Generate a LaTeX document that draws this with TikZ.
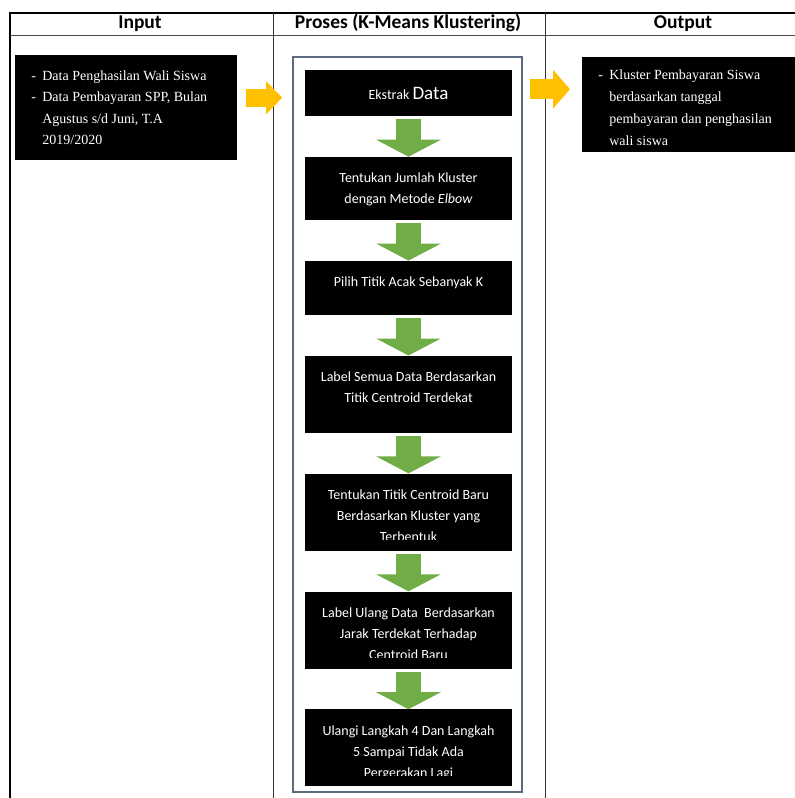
\documentclass[tikz,border=0pt]{standalone}
\usepackage{fontspec}
\setmainfont{Liberation Serif}
\newfontfamily\calibri{Carlito}
\usetikzlibrary{positioning,arrows.meta}
\definecolor{stepgreen}{HTML}{70AD47}
\definecolor{flowyellow}{HTML}{FFC000}
\definecolor{framegrey}{HTML}{5B6B7F}

\tikzset{
  steptext/.style={anchor=base,inner sep=0pt,text=white,minimum width=0pt,minimum height=0pt,
    font=\calibri\fontsize{14pt}{21pt}\selectfont},
  stepbox/.style={fill=black,minimum width=207pt,minimum height=77pt,inner sep=0pt,
    path picture={
      \clip ([yshift=11pt]path picture bounding box.south west) rectangle (path picture bounding box.north east);
      \node[steptext] at ([yshift=-26pt]path picture bounding box.north)
        {\begin{tabular}[t]{@{}c@{}}#1\end{tabular}};}},
  listtext/.style={anchor=base west,inner sep=0pt,text=white,minimum width=0pt,minimum height=0pt,
    font=\fontsize{14pt}{21.5pt}\selectfont},
  listbox/.style={fill=black,inner sep=0pt,anchor=north west,
    path picture={
      \node[listtext] at ([xshift=16pt,yshift=-25pt]path picture bounding box.north west)
        {\begin{tabular}[t]{@{}l@{\hspace{6.3pt}}l@{}}#1\end{tabular}};}},
  header/.style={anchor=base,font=\calibri\bfseries\fontsize{19.5pt}{22pt}\selectfont}
}

\begin{document}
\begin{tikzpicture}[x=1pt,y=-1pt,node distance=40.5pt,
    greenarrow/.style={draw=stepgreen,line width=25pt,shorten <=3pt,
      -{Triangle[width=64pt,length=17pt]}},
    yellowarrow/.style={draw=flowyellow,line width=18pt,
      -{Triangle[width=32pt,length=16pt]}}]
\useasboundingbox (0,0) rectangle (795,798);

% tabel
\draw[line width=2pt] (10,798) -- (10,13) -- (795,13);
\draw[black!70,line width=1.2pt] (10,35.5) -- (795,35.5);
\draw[black!80,line width=1pt] (273,13) -- (273,798);
\draw[black!80,line width=1pt] (545,13) -- (545,798);

\node[header] (hinput) at (140,28.5) {Input};
\node[header] (hproses) at (408,28.5) {Proses (K-Means Klustering)};
\node[header] (houtput) at (683,28.5) {Output};

% input / output
\node[listbox={- & Data Penghasilan Wali Siswa\\
    - & Data Pembayaran SPP, Bulan\\
      & Agustus s/d Juni, T.A\\
      & 2019/2020},
  minimum width=222pt,minimum height=105pt] (input) at (15,55) {};
\node[listbox={- & Kluster Pembayaran Siswa\\
      & berdasarkan tanggal\\
      & pembayaran dan penghasilan\\
      & wali siswa},
  listtext/.append style={font=\fontsize{14pt}{22pt}\selectfont,yshift=3pt},
  minimum width=220pt,minimum height=95pt] (output) at (582,57) {};

% proses
\node[draw=framegrey,line width=1.6pt,minimum width=229pt,minimum height=735pt] (proses) at (407.5,424.5) {};

\node[stepbox={Ekstrak {\fontsize{19pt}{21pt}\selectfont Data}},minimum height=46pt,
  steptext/.append style={yshift=-3pt}] (ekstrak) at (408.5,93) {};
\node[stepbox={Tentukan Jumlah Kluster\\dengan Metode \textit{Elbow}},minimum height=63pt,
  below=of ekstrak] (jumlah) {};
\node[stepbox={Pilih Titik Acak Sebanyak K},minimum height=54pt,below=of jumlah] (pilih) {};
\node[stepbox={Label Semua Data Berdasarkan\\Titik Centroid Terdekat},below=of pilih] (label) {};
\node[stepbox={Tentukan Titik Centroid Baru\\Berdasarkan Kluster yang\\Terbentuk},below=of label] (centroid) {};
\node[stepbox={Label Ulang Data\ \ Berdasarkan\\Jarak Terdekat Terhadap\\Centroid Baru},below=of centroid] (labelulang) {};
\node[stepbox={Ulangi Langkah 4 Dan Langkah\\5 Sampai Tidak Ada\\Pergerakan Lagi},below=of labelulang] (ulangi) {};

\draw[greenarrow] (ekstrak) -- (jumlah);
\draw[greenarrow] (jumlah) -- (pilih);
\draw[greenarrow] (pilih) -- (label);
\draw[greenarrow] (label) -- (centroid);
\draw[greenarrow] (centroid) -- (labelulang);
\draw[greenarrow] (labelulang) -- (ulangi);

\draw[yellowarrow,shorten <=9pt,shorten >=10pt] ([yshift=10pt]input.east) -- ([yshift=10pt]input.east -| proses.west);
\draw[yellowarrow,line width=20pt,-{Triangle[width=38pt,length=17pt]},shorten <=7pt,shorten >=12pt]
  ([yshift=15.5pt]output.west -| proses.east) -- ([yshift=15.5pt]output.west);
\end{tikzpicture}
\end{document}
